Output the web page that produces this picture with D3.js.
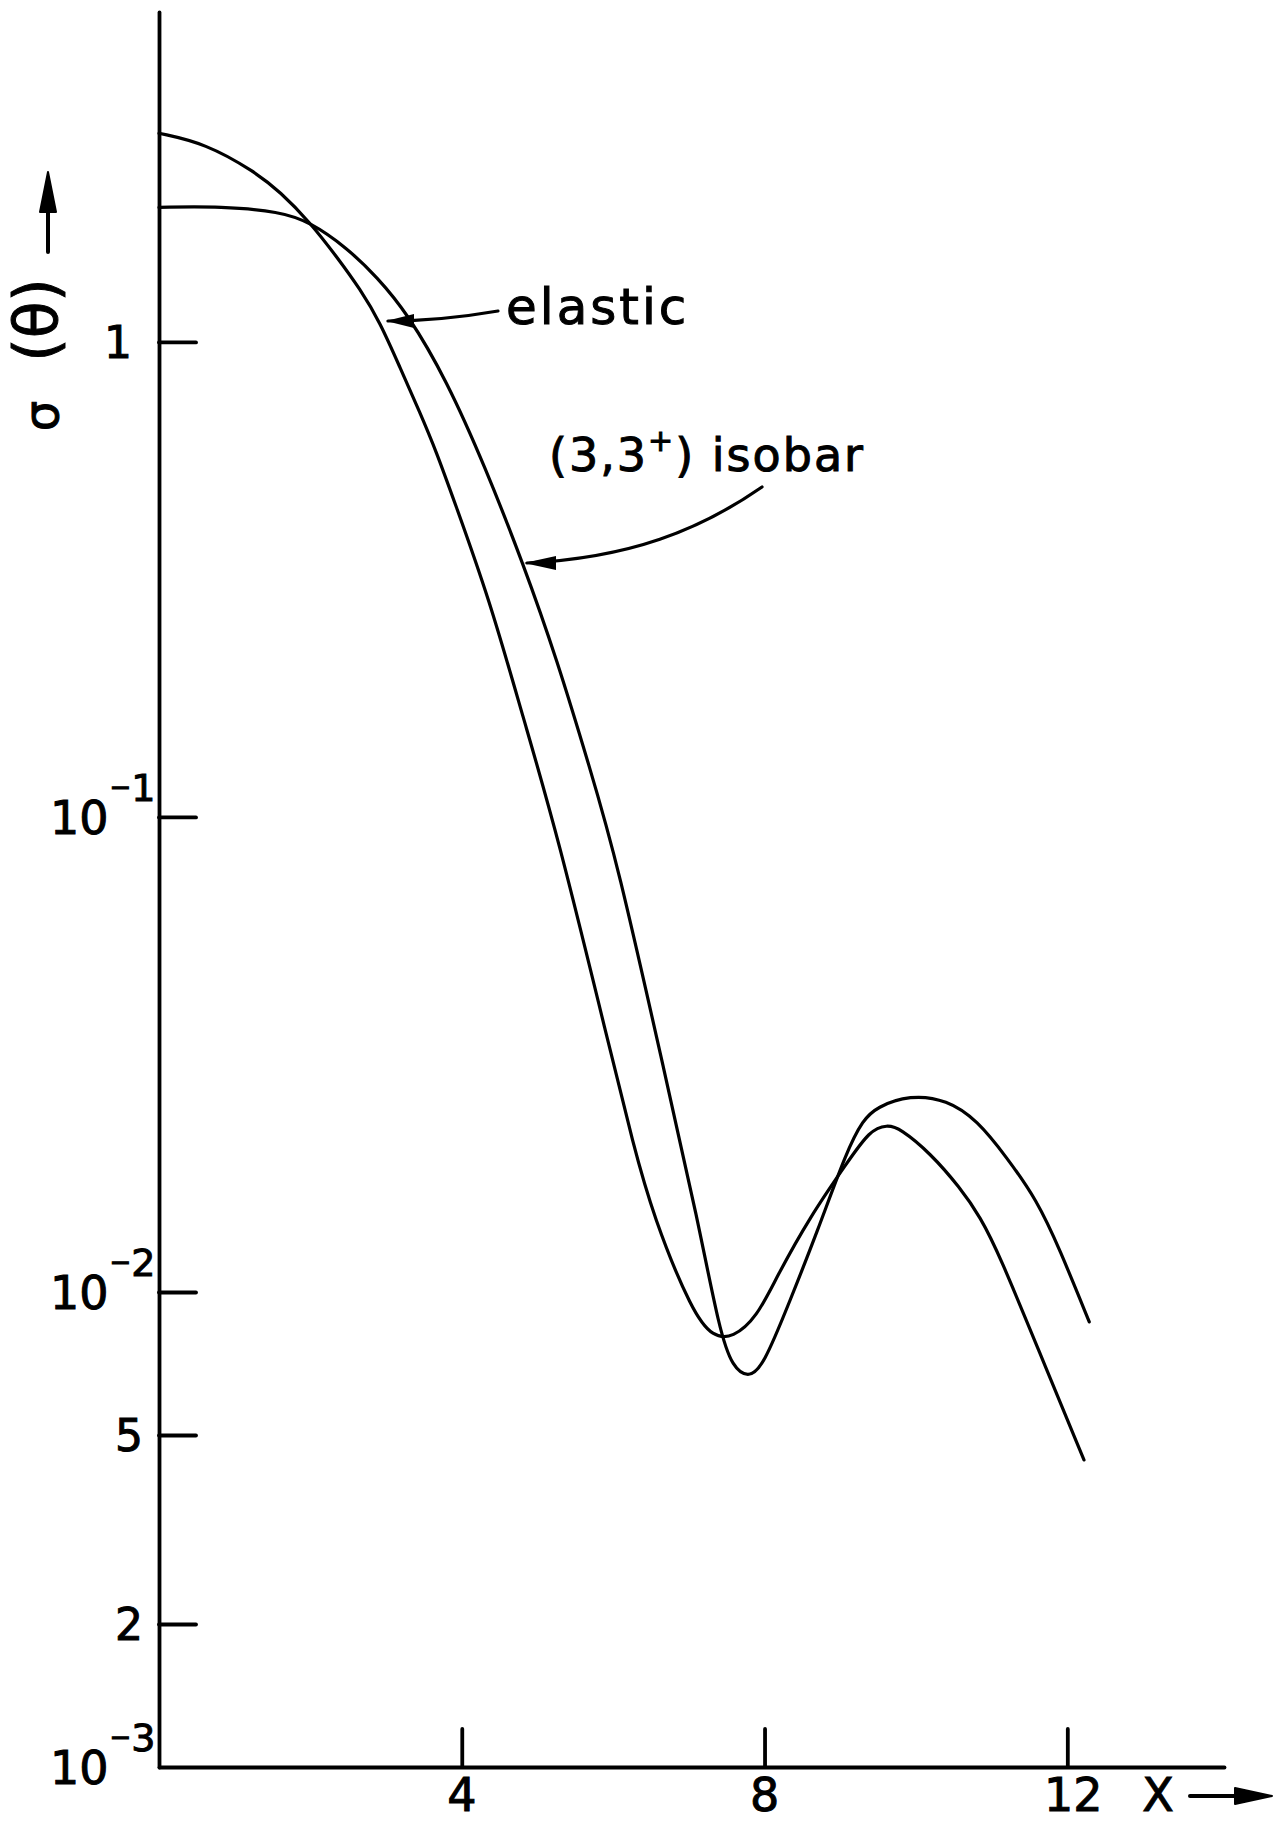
<!DOCTYPE html>
<html>
<head>
<meta charset="utf-8">
<script src="https://cdn.jsdelivr.net/npm/d3@7"></script>
<style>
  body { margin: 0; background: #fff; }
  text { font-family: "DejaVu Sans", sans-serif; fill: #000; stroke: #000; stroke-width: 1; }
</style>
</head>
<body>
<div id="chart"></div>
<script>
// values: x and sigma(theta)
const elasticX = [0, 0.61, 1.27, 1.60, 1.99, 2.35, 2.66, 2.92, 3.18, 3.45, 3.67, 3.88, 4.37, 4.81, 5.26, 5.96, 6.26, 6.53, 7.05, 7.32, 7.58, 7.90, 8.16, 8.60, 9.09, 9.39, 9.62, 9.79, 10.19, 10.58, 10.85, 11.11, 11.62, 12.22];
const elasticY = [2.75, 2.62, 2.28, 2.07, 1.79, 1.51, 1.29, 1.10, 0.886, 0.709, 0.584, 0.472, 0.286, 0.162, 0.0925, 0.0323, 0.0206, 0.0144, 0.00903, 0.00804, 0.00800, 0.00885, 0.01076, 0.0144, 0.0187, 0.0219, 0.0225, 0.0221, 0.0196, 0.0166, 0.0144, 0.0119, 0.00755, 0.00443];

const isobarX = [0, 0.83, 1.60, 1.99, 2.48, 2.88, 3.28, 3.80, 4.31, 4.81, 5.26, 5.69, 6.05, 6.71, 7.11, 7.41, 7.58, 7.78, 7.98, 8.34, 8.69, 9.09, 9.30, 9.48, 9.92, 10.41, 10.81, 11.20, 11.60, 11.90, 12.29];
const isobarY = [1.92, 1.93, 1.88, 1.79, 1.58, 1.37, 1.15, 0.831, 0.545, 0.342, 0.214, 0.127, 0.0811, 0.0275, 0.0144, 0.00820, 0.00695, 0.00659, 0.00695, 0.00962, 0.0133, 0.0199, 0.0230, 0.0245, 0.0260, 0.0254, 0.0230, 0.0192, 0.0156, 0.0123, 0.00865];

// axis ticks
const xTicks = [4, 8, 12];
const yTicks = [1, 0.1, 0.01, 0.005, 0.002, 0.001];
const yTickBase = ["1", "10", "10", "5", "2", "10"];
const yTickExp = ["", "1", "2", "", "", "3"];

const width = 1275;
const height = 1824;

const svg = d3.select("#chart")
  .append("svg")
  .attr("width", width)
  .attr("height", height)
  .style("background", "#fff");

// scales
const x = d3.scaleLinear().domain([0, 14.07]).range([159, 1224]);
const y = d3.scaleLog().domain([0.001, 4.95]).range([1767, 12]);

// y axis, ticks point into the plot
svg.append("g")
  .attr("transform", `translate(${x(0)},0)`)
  .call(d3.axisLeft(y).tickValues(yTicks.slice(0, 5)).tickSize(-37).tickSizeOuter(0).tickFormat(""));

// x axis, ticks point up
svg.append("g")
  .attr("transform", `translate(0,${y(0.001)})`)
  .call(d3.axisBottom(x).tickValues(xTicks).tickSize(-38).tickSizeOuter(0).tickFormat(""));

svg.selectAll(".domain, .tick line")
  .attr("stroke", "#000")
  .attr("stroke-width", 3.8)
  .attr("stroke-linecap", "round");

// y tick labels
yTicks.forEach((v, i) => {
  const base = y(v);
  if (yTickExp[i] === "") {
    svg.append("text")
      .attr("x", yTickBase[i] === "1" ? 118 : 129)
      .attr("y", base + 16)
      .attr("text-anchor", "middle")
      .attr("font-size", 44)
      .text(yTickBase[i]);
  } else {
    const t = svg.append("text")
      .attr("x", 50)
      .attr("y", base + 17)
      .attr("font-size", 46);
    t.append("tspan").text(yTickBase[i]);
    t.append("tspan").attr("font-size", 26).attr("dx", 1).attr("dy", -38).text("\u2212");
    t.append("tspan").attr("font-size", 38).attr("dy", 5).text(yTickExp[i]);
  }
});

// x tick labels
xTicks.forEach(v => {
  svg.append("text")
    .attr("x", x(v) + (v >= 10 ? 6 : 0))
    .attr("y", 1811)
    .attr("text-anchor", "middle")
    .attr("font-size", 46)
    .text(v);
});

// x axis title with arrow
svg.append("text")
  .attr("x", 1158)
  .attr("y", 1811)
  .attr("text-anchor", "middle")
  .attr("font-size", 46)
  .text("X");
svg.append("line")
  .attr("x1", 1190).attr("x2", 1245)
  .attr("y1", 1796).attr("y2", 1796)
  .attr("stroke", "#000").attr("stroke-width", 4).attr("stroke-linecap", "round");
svg.append("path")
  .attr("d", "M1272,1796 L1235,1788 L1235,1804 Z")
  .attr("fill", "#000").attr("stroke", "#000").attr("stroke-width", 2).attr("stroke-linejoin", "round");

// y axis title (rotated) with arrow
svg.append("text")
  .attr("transform", "translate(58,416) rotate(-90)")
  .attr("text-anchor", "middle")
  .attr("font-size", 48)
  .text("\u03c3");
svg.append("text")
  .attr("transform", "translate(57,320) rotate(-90)")
  .attr("text-anchor", "middle")
  .attr("font-size", 60)
  .text("(\u03b8)");
svg.append("line")
  .attr("x1", 48).attr("x2", 48)
  .attr("y1", 252).attr("y2", 205)
  .attr("stroke", "#000").attr("stroke-width", 4).attr("stroke-linecap", "round");
svg.append("path")
  .attr("d", "M48,172 L40,212 L56,212 Z")
  .attr("fill", "#000").attr("stroke", "#000").attr("stroke-width", 2).attr("stroke-linejoin", "round");

// curves (B-spline through the read points, smooths hand-drawn wobble)
const line = d3.line()
  .curve(d3.curveBasis)
  .x(d => x(d[0]))
  .y(d => y(d[1]));

const series = [
  { name: "elastic", pts: elasticX.map((v, i) => [v, elasticY[i]]) },
  { name: "isobar", pts: isobarX.map((v, i) => [v, isobarY[i]]) }
];

svg.selectAll("path.curve")
  .data(series)
  .enter()
  .append("path")
  .attr("class", "curve")
  .attr("fill", "none")
  .attr("stroke", "#000")
  .attr("stroke-width", 3.2)
  .attr("stroke-linecap", "round")
  .attr("d", d => line(d.pts));

// annotations
svg.append("text")
  .attr("x", 506)
  .attr("y", 324)
  .attr("font-size", 50)
  .attr("letter-spacing", 3)
  .text("elastic");

const iso = svg.append("text")
  .attr("x", 549)
  .attr("y", 471)
  .attr("font-size", 46)
  .attr("letter-spacing", 2);
iso.append("tspan").text("(3,3");
iso.append("tspan").attr("font-size", 30).attr("dy", -20).text("+");
iso.append("tspan").attr("dy", 20).text(") isobar");

// leader lines with arrowheads
svg.append("path")
  .attr("d", "M498,311 Q440,321 388,321")
  .attr("fill", "none").attr("stroke", "#000").attr("stroke-width", 3.2).attr("stroke-linecap", "round");
svg.append("path")
  .attr("d", "M386,321 L414,314 L414,328 Z")
  .attr("fill", "#000");

svg.append("path")
  .attr("d", "M762,487 C700,530 630,558 527,563")
  .attr("fill", "none").attr("stroke", "#000").attr("stroke-width", 3.2).attr("stroke-linecap", "round");
svg.append("path")
  .attr("d", "M524,563 L556,556 L556,570 Z")
  .attr("fill", "#000");
</script>
</body>
</html>
